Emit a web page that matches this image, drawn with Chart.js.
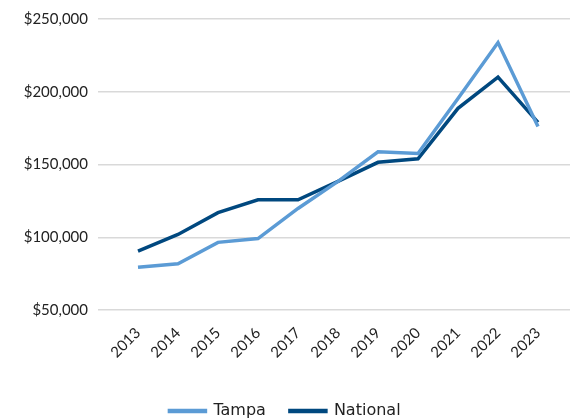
<!DOCTYPE html>
<html>
<head>
<meta charset="utf-8">
<script src="https://cdn.jsdelivr.net/npm/chart.js@4.4.1/dist/chart.umd.min.js"></script>
<style>
  html, body { margin: 0; padding: 0; background: #fff; }
  #wrap { width: 570px; height: 418px; }
</style>
</head>
<body>
<div id="wrap"><canvas id="lineChart"></canvas></div>
<script>
var years = [2013, 2014, 2015, 2016, 2017, 2018, 2019, 2020, 2021, 2022, 2023];
var tampa = [79400, 81800, 96500, 99100, 119800, 138400, 158700, 157600, 195400, 233800, 176100];
var national = [90500, 101900, 116900, 125700, 125700, 138400, 151500, 153900, 188600, 210000, 178900];
var yTicks = [50000, 100000, 150000, 200000, 250000];

function points(values) {
  return values.map(function (v, i) { return { x: years[i], y: v }; });
}

Chart.defaults.font.family = 'Lato, "Noto Sans", sans-serif';
Chart.defaults.color = '#222';

var ctx = document.getElementById('lineChart');

var lineChart = new Chart(ctx, {
  type: 'line',
  data: {
    datasets: [{
      label: 'Tampa',
      data: points(tampa),
      borderColor: '#5b9bd5',
      backgroundColor: '#5b9bd5',
      borderWidth: 3.5,
      pointRadius: 0,
      tension: 0
    }, {
      label: 'National',
      data: points(national),
      borderColor: '#00487f',
      backgroundColor: '#00487f',
      borderWidth: 3.5,
      pointRadius: 0,
      tension: 0
    }]
  },
  options: {
    responsive: true,
    maintainAspectRatio: false,
    animation: false,
    layout: { padding: { top: 18, right: 0, bottom: -11, left: 0 } },
    plugins: {
      tooltip: { enabled: false },
      legend: {
        position: 'bottom',
        labels: {
          boxWidth: 36,
          boxHeight: 1,
          padding: 24,
          font: { size: 16, family: '"DejaVu Sans", sans-serif' },
          color: '#222'
        }
      }
    },
    scales: {
      x: {
        type: 'linear',
        min: 2012,
        max: 2023.8,
        grid: { display: false },
        border: { display: false },
        afterBuildTicks: function (scale) {
          scale.ticks = years.map(function (y) { return { value: y }; });
        },
        afterFit: function (scale) { scale.height = 69; },
        ticks: {
          minRotation: 45,
          maxRotation: 45,
          padding: 6,
          font: { size: 15 },
          color: '#222',
          callback: function (v) { return String(v); }
        }
      },
      y: {
        min: 50000,
        max: 250000,
        afterBuildTicks: function (scale) {
          scale.ticks = yTicks.map(function (v) { return { value: v }; });
        },
        afterFit: function (scale) { scale.width = 98; },
        grid: { color: '#d9d9d9', lineWidth: 1.5, drawTicks: false },
        border: { display: false },
        ticks: {
          padding: 10,
          font: { size: 15 },
          color: '#222',
          callback: function (v) { return '$' + v.toLocaleString('en-US'); }
        }
      }
    }
  }
});
</script>
</body>
</html>
